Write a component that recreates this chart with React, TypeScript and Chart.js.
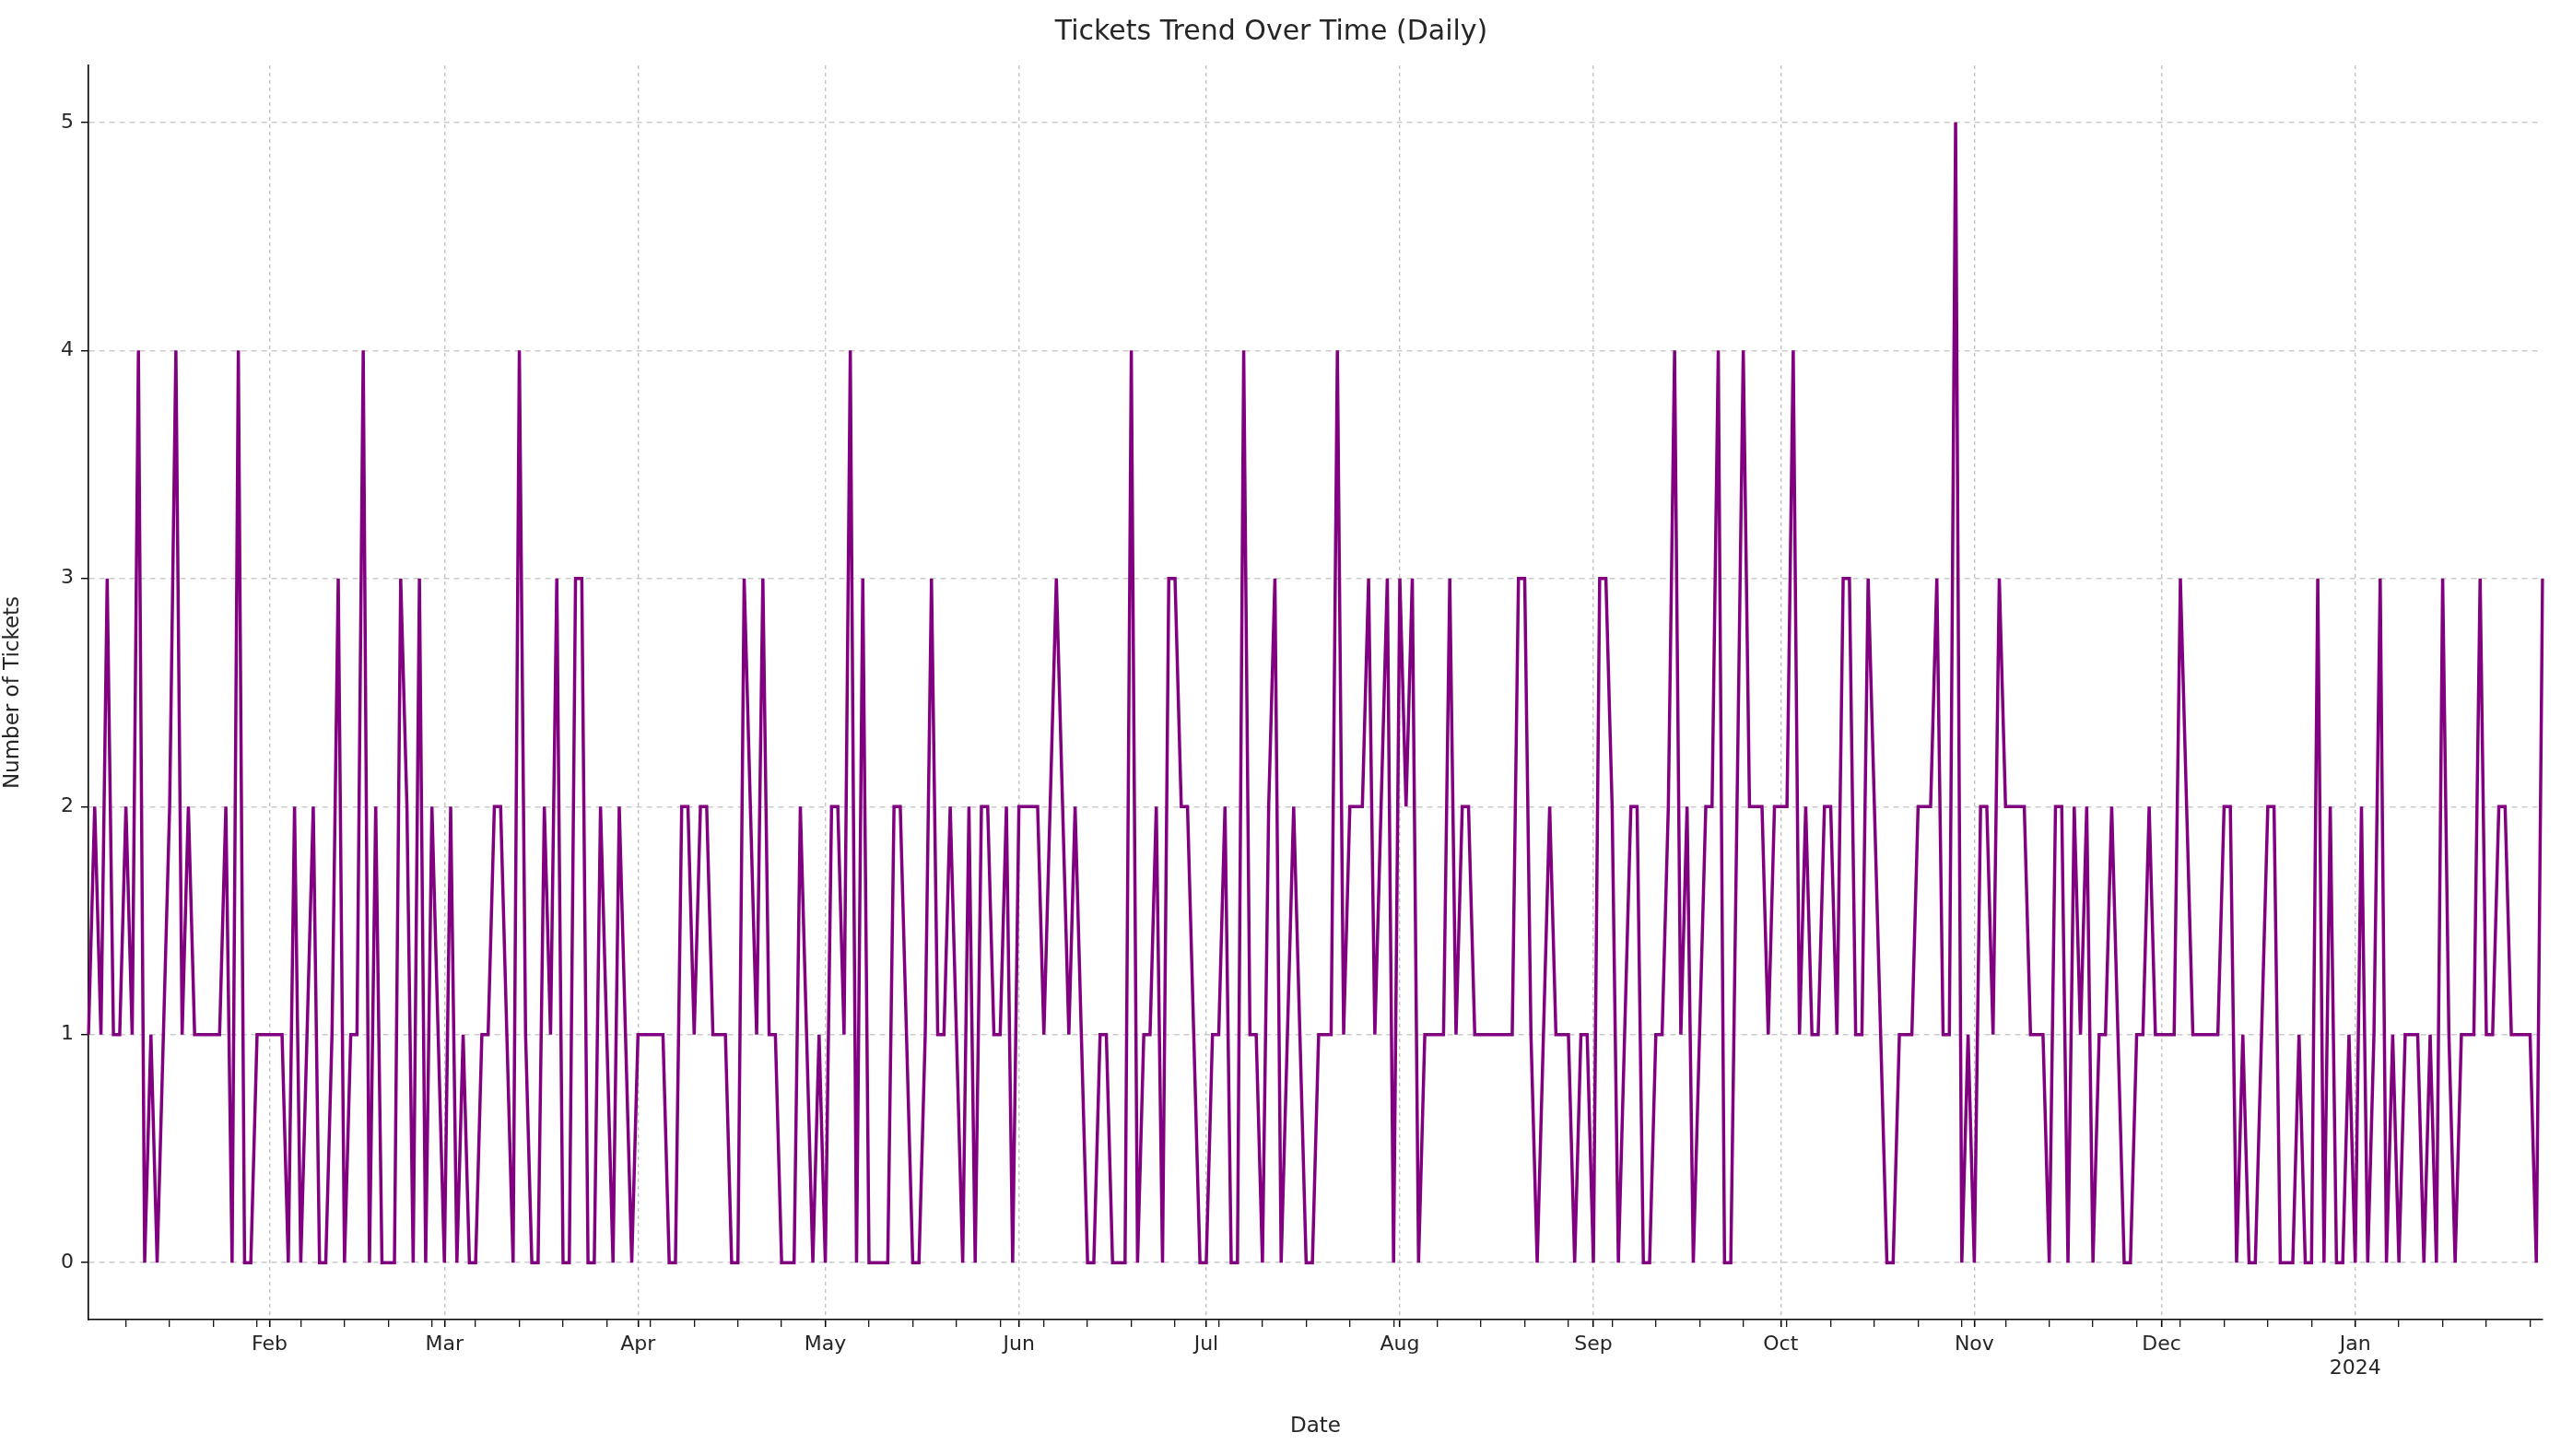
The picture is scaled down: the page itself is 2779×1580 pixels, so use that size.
import { useEffect, useRef } from "react"
import { Chart, registerables } from "chart.js"

Chart.register(...registerables)

// daily ticket counts, 3 Jan 2023 .. 31 Jan 2024, one array per month
const jan23 = [1, 2, 1, 3, 1, 1, 2, 1, 4, 0, 1, 0, 1, 2, 4, 1, 2, 1, 1, 1, 1, 1, 2, 0, 4, 0, 0, 1, 1]
const feb23 = [1, 1, 1, 0, 2, 0, 1, 2, 0, 0, 1, 3, 0, 1, 1, 4, 0, 2, 0, 0, 0, 3, 2, 0, 3, 0, 2, 1]
const mar23 = [0, 2, 0, 1, 0, 0, 1, 1, 2, 2, 1, 0, 4, 1, 0, 0, 2, 1, 3, 0, 0, 3, 3, 0, 0, 2, 1, 0, 2, 1, 0]
const apr23 = [1, 1, 1, 1, 1, 0, 0, 2, 2, 1, 2, 2, 1, 1, 1, 0, 0, 3, 2, 1, 3, 1, 1, 0, 0, 0, 2, 1, 0, 1]
const may23 = [0, 2, 2, 1, 4, 0, 3, 0, 0, 0, 0, 2, 2, 1, 0, 0, 1, 3, 1, 1, 2, 1, 0, 2, 0, 2, 2, 1, 1, 2, 0]
const jun23 = [2, 2, 2, 2, 1, 2, 3, 2, 1, 2, 1, 0, 0, 1, 1, 0, 0, 0, 4, 0, 1, 1, 2, 0, 3, 3, 2, 2, 1, 0]
const jul23 = [0, 1, 1, 2, 0, 0, 4, 1, 1, 0, 2, 3, 0, 1, 2, 1, 0, 0, 1, 1, 1, 4, 1, 2, 2, 2, 3, 1, 2, 3, 0]
const aug23 = [3, 2, 3, 0, 1, 1, 1, 1, 3, 1, 2, 2, 1, 1, 1, 1, 1, 1, 1, 3, 3, 1, 0, 1, 2, 1, 1, 1, 0, 1, 1]
const sep23 = [0, 3, 3, 2, 0, 1, 2, 2, 0, 0, 1, 1, 2, 4, 1, 2, 0, 1, 2, 2, 4, 0, 0, 2, 4, 2, 2, 2, 1, 2]
const oct23 = [2, 2, 4, 1, 2, 1, 1, 2, 2, 1, 3, 3, 1, 1, 3, 2, 1, 0, 0, 1, 1, 1, 2, 2, 2, 3, 1, 1, 5, 0, 1]
const nov23 = [0, 2, 2, 1, 3, 2, 2, 2, 2, 1, 1, 1, 0, 2, 2, 0, 2, 1, 2, 0, 1, 1, 2, 1, 0, 0, 1, 1, 2, 1]
const dec23 = [1, 1, 1, 3, 2, 1, 1, 1, 1, 1, 2, 2, 0, 1, 0, 0, 1, 2, 2, 0, 0, 0, 1, 0, 0, 3, 0, 2, 0, 0, 1]
const jan24 = [0, 2, 0, 1, 3, 0, 1, 0, 1, 1, 1, 0, 1, 0, 3, 1, 0, 1, 1, 1, 3, 1, 1, 2, 2, 1, 1, 1, 1, 0, 3]

const tickets = [
  ...jan23, ...feb23, ...mar23, ...apr23, ...may23, ...jun23, ...jul23,
  ...aug23, ...sep23, ...oct23, ...nov23, ...dec23, ...jan24,
]

const yTicks = [0, 1, 2, 3, 4, 5]
const monthNames = ["Jan", "Feb", "Mar", "Apr", "May", "Jun", "Jul", "Aug", "Sep", "Oct", "Nov", "Dec"]

const days = tickets.map((_, i) => new Date(Date.UTC(2023, 0, 3 + i)))
const labels = days.map((d) => d.toISOString().slice(0, 10))

const isMonthStart = (i: number) => days[i] && days[i].getUTCDate() === 1
const isMonday = (i: number) => days[i] && days[i].getUTCDay() === 1

const font = "'DejaVu Sans', sans-serif"
const textColor = "#262626"

export default function App() {
  const canvasRef = useRef<HTMLCanvasElement>(null)

  useEffect(() => {
    if (!canvasRef.current) return
    const chart = new Chart(canvasRef.current, {
      type: "line",
      data: {
        labels,
        datasets: [
          {
            data: tickets,
            borderColor: "#800080",
            borderWidth: 3.5,
            pointRadius: 0,
            tension: 0,
          },
        ],
      },
      options: {
        animation: false,
        responsive: true,
        maintainAspectRatio: false,
        layout: { padding: { top: 3, right: 20, left: 0, bottom: 0 } },
        plugins: {
          legend: { display: false },
          tooltip: { enabled: false },
          title: {
            display: true,
            text: "Tickets Trend Over Time (Daily)",
            color: textColor,
            font: { family: font, size: 30, weight: "normal" },
            padding: { top: 14, bottom: 18 },
          },
        },
        scales: {
          x: {
            type: "category",
            offset: false,
            afterFit: (scale) => {
              scale.height = 148
            },
            border: { display: true, color: "#000", width: 1.6, dash: [4, 4] },
            grid: {
              color: (ctx) => (isMonthStart(ctx.index) ? "rgba(180,180,180,0.8)" : "transparent"),
              lineWidth: 1.4,
              tickColor: (ctx) =>
                isMonthStart(ctx.index) || isMonday(ctx.index) ? "#000" : "transparent",
              tickWidth: (ctx) => (isMonthStart(ctx.index) ? 1.6 : 1.2),
              tickLength: 8,
            },
            ticks: {
              autoSkip: false,
              maxRotation: 0,
              minRotation: 0,
              padding: 6,
              color: textColor,
              font: { family: font, size: 22 },
              callback: (_v, i) => {
                if (!isMonthStart(i)) return ""
                const d = days[i]
                const m = monthNames[d.getUTCMonth()]
                return d.getUTCMonth() === 0 ? [m, String(d.getUTCFullYear())] : m
              },
            },
            title: {
              display: true,
              text: "Date",
              color: textColor,
              font: { family: font, size: 23 },
              padding: { top: 4, bottom: 18 },
            },
          },
          y: {
            min: -0.25,
            max: 5.25,
            afterFit: (scale) => {
              scale.width = 96
            },
            afterBuildTicks: (scale) => {
              scale.ticks = yTicks.map((v) => ({ value: v }))
            },
            border: { display: true, color: "#000", width: 1.6, dash: [6, 5] },
            grid: {
              color: "rgba(190,190,190,0.8)",
              lineWidth: 1.4,
              tickColor: "#000",
              tickLength: 8,
            },
            ticks: {
              padding: 8,
              color: textColor,
              font: { family: font, size: 22 },
            },
            title: {
              display: true,
              text: "Number of Tickets",
              color: textColor,
              font: { family: font, size: 23 },
              padding: { top: 0, bottom: 4 },
            },
          },
        },
      },
    })
    return () => chart.destroy()
  }, [])

  return (
    <div style={{ position: "fixed", left: 0, top: 0, width: 2779, height: 1580, background: "#fff" }}>
      <canvas ref={canvasRef} />
    </div>
  )
}
